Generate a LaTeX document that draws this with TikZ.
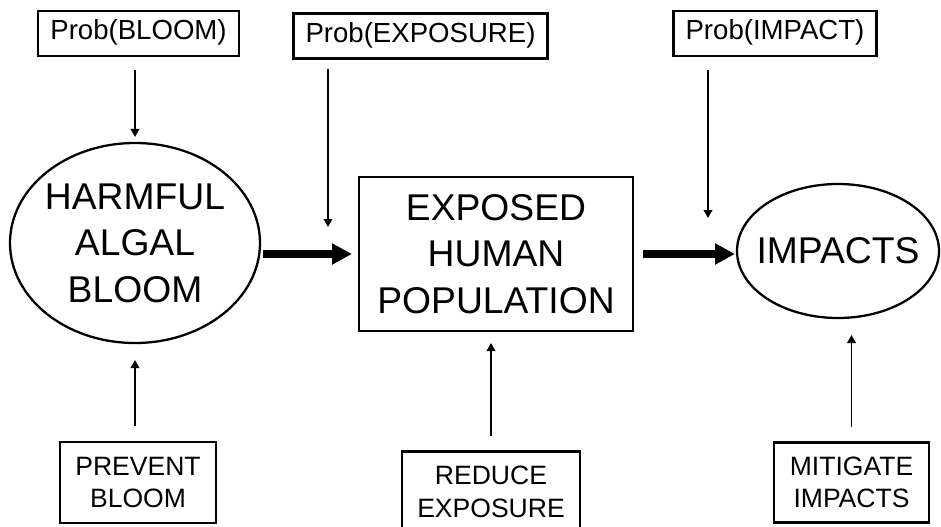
\documentclass[tikz,border=0pt]{standalone}
\usepackage{fontspec}
\setmainfont{Liberation Sans}
\usetikzlibrary{arrows.meta,positioning,shapes.geometric,calc}

\begin{document}
\begin{tikzpicture}[>={Triangle[length=0.16cm,width=0.17cm]}]
  \useasboundingbox (0,0) rectangle (18.82,-10.54);
  \tikzset{
    probBox/.style={rectangle,draw=black,line width=1.3pt,outer sep=0pt,minimum height=0.9cm,inner xsep=0.24cm,text height=0.72em,text depth=0pt,font=\fontsize{15.7}{18}\selectfont},
    actionBox/.style={rectangle,draw=black,line width=1.3pt,outer sep=0pt,align=center,font=\fontsize{15.1}{18.5}\selectfont},
    stageBox/.style={rectangle,draw=black,line width=1.3pt,outer sep=0pt,align=center,font=\fontsize{21.2}{26.5}\selectfont},
    stageEll/.style={ellipse,draw=black,line width=1.3pt,outer sep=0pt,align=center,font=\fontsize{21.2}{26.5}\selectfont},
    % edge styles
    thinArrow/.style={->,line width=1.1pt},
    thickArrow/.style={-{Triangle[length=0.4cm,width=0.4cm]},line width=0.15cm}
  }

  % Probabilities
  \node [probBox] (pbloom) at (2.77,-0.67)  {Prob(BLOOM)};
  \node [probBox] (pexp)   at (8.41,-0.72)  {Prob(EXPOSURE)};
  \node [probBox] (pimp)   at (15.5,-0.67)  {Prob(IMPACT)};

  % Stages
  \node [stageEll,minimum width=5cm,minimum height=4cm,inner xsep=-0.035cm] (hab) at (2.7,-4.86) {HARMFUL\\ALGAL\\BLOOM};
  \node [stageBox,minimum width=5.48cm,minimum height=3.08cm] (expo) at (9.92,-5.08) {EXPOSED\\HUMAN\\POPULATION};
  \node [stageEll,minimum width=4.04cm,minimum height=2.68cm,inner xsep=-0.23cm] (imp) at (16.76,-5.02) {IMPACTS};

  % Actions
  \node [actionBox,minimum width=3.12cm,minimum height=1.62cm] (prev)   at (2.76,-9.65)  {PREVENT\\BLOOM};
  \node [actionBox,minimum width=3.56cm,minimum height=1.62cm] (reduce) at (9.82,-9.84)  {REDUCE\\EXPOSURE};
  \node [actionBox,minimum width=3.1cm,minimum height=1.6cm]   (mitig)  at (17.03,-9.65) {MITIGATE\\IMPACTS};

  \coordinate (pexpTip) at (6.56,-4.54);
  \coordinate (pimpTip) at (14.16,-4.36);

  % Main flow
  \draw [thickArrow,shorten <=0.06cm,shorten >=0.14cm] (hab.east |- expo.west) -- (expo.west);
  \draw [thickArrow,shorten <=0.2cm,shorten >=0.04cm] (expo.east) -- (expo.east -| imp.west);

  % Probability arrows
  \draw [thinArrow,shorten <=0.28cm,shorten >=0.12cm] (hab.north |- pbloom.south) -- (hab.north);
  \draw [thinArrow,shorten <=0.22cm] (pexp.south -| pexpTip) -- (pexpTip);
  \draw [thinArrow,shorten <=0.28cm] (pimp.south -| pimpTip) -- (pimpTip);

  % Action arrows
  \draw [thinArrow,shorten <=0.32cm,shorten >=0.34cm] (hab.south |- prev.north) -- (hab.south);
  \draw [thinArrow,shorten <=0.32cm,shorten >=0.24cm] (reduce.north) -- (reduce.north |- expo.south);
  \draw [thinArrow,shorten <=0.32cm,shorten >=0.34cm] (mitig.north) -- (mitig.north |- imp.south);
\end{tikzpicture}
\end{document}
